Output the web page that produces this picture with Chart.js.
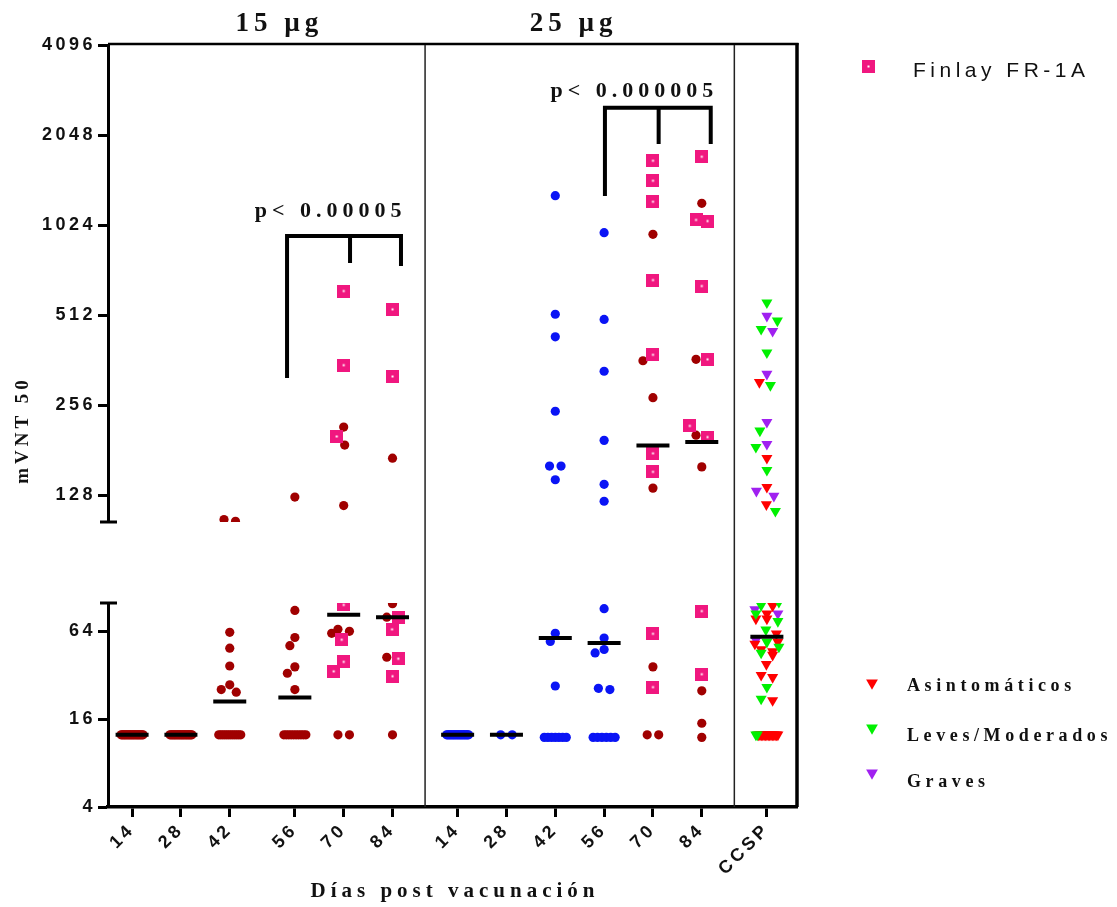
<!DOCTYPE html>
<html>
<head>
<meta charset="utf-8">
<script src="https://cdn.jsdelivr.net/npm/chart.js@4.4.1/dist/chart.umd.min.js"></script>
<style>
  html, body { margin: 0; padding: 0; background: #fff; }
</style>
</head>
<body>
<canvas id="myChart" width="1117" height="907"></canvas>
<script>
const ctx = document.getElementById('myChart');

// columnas del eje x
const slotLabels = ['14', '28', '42', '56', '70', '84', '14', '28', '42', '56', '70', '84', 'CCSP'];
const slotPos = [0, 3, 6, 10, 13, 16, 20, 23, 26, 29, 32, 35, 39];

const upperTicks = [128, 256, 512, 1024, 2048, 4096];
const lowerTicks = [4, 16, 64];

// 15 µg (círculos)
const r15_14 = [12.5, 12.5, 12.5, 12.5, 12.5, 12.5, 12.5, 12.5, 12.5, 12.5, 12.5, 12.5, 12.5, 12.5, 12.5, 12.5, 12.5, 12.5, 12.5, 12.5];
const r15_28 = [12.5, 12.5, 12.5, 12.5, 12.5, 12.5, 12.5, 12.5, 12.5, 12.5, 12.5, 12.5, 12.5, 12.5, 12.5, 12.5, 12.5, 12.5, 12.5, 12.5];
const r15_42 = [106, 104.5, 63, 49, 37, 27.5, 25.5, 24.5, 12.5, 12.5, 12.5, 12.5, 12.5, 12.5, 12.5, 12.5, 12.5, 12.5, 12.5, 12.5];
const r15_56 = [126, 89, 58, 51, 36.5, 33, 25.5, 12.5, 12.5, 12.5, 12.5, 12.5, 12.5, 12.5, 12.5, 12.5, 12.5];
const r15_70 = [216, 188, 118, 66, 64, 62, 12.5, 12.5];
const r15_84 = [170, 99, 80, 42.5, 12.5];
// 15 µg + Finlay FR-1A (cuadrados)
const f15_70 = [616, 348, 201, 97, 56, 39.5, 34];
const f15_84 = [535, 319, 80, 66, 41.5, 31.5];

// 25 µg
const b25_14 = [12.5, 12.5, 12.5, 12.5, 12.5, 12.5, 12.5, 12.5, 12.5, 12.5, 12.5, 12.5, 12.5, 12.5, 12.5, 12.5, 12.5, 12.5, 12.5, 12.5];
const b25_28 = [12.5, 12.5];
const b25_42 = [1284, 515, 433, 244, 160, 160, 144, 62, 54.5, 27, 12, 12, 12, 12, 12, 12, 12];
const b25_56 = [965, 495, 332, 195, 139, 122, 91.5, 57.5, 48, 45.5, 26, 25.5, 12, 12, 12, 12, 12, 12];
const r25_70 = [953, 360, 271, 135, 36.5, 12.5, 12.5];
const r25_84 = [1210, 364, 203, 159, 25, 15, 12];
const f25_70 = [1680, 1440, 1225, 670, 377, 176.5, 153, 61.5, 26.5];
const f25_84 = [1733, 1065, 1056, 640, 364, 218, 200, 88, 32.5];

// convalecientes (CCSP)
const ccAsym = [305, 170, 136, 119, 95.5, 84.5, 78, 78, 61.5, 54, 52.5, 48, 46.5, 44, 38, 32, 31, 21.5,
  12.5, 12.5, 12.5, 12.5, 12.5, 12.5, 12.5, 12.5, 12.5, 12.5, 12.5, 12.5, 12.5, 12.5, 12.5];
const ccMild = [563, 490, 459, 383, 298, 210, 185, 155, 113, 101.5, 96.5, 84.5, 75, 65.5, 54, 50, 45.5, 26.5, 22, 12.5, 12.5];
const ccSevere = [508, 452, 325, 224.5, 189.5, 132, 127, 90.5, 84.5, 55.5];

const BREAK = 103; // por debajo: tramo inferior del eje

// marcador Finlay: cuadrado rosa con punto blanco
const finlayMark = document.createElement('canvas');
finlayMark.width = 13; finlayMark.height = 13;
const fm = finlayMark.getContext('2d');
fm.fillStyle = '#f0177f'; fm.fillRect(0, 0, 13, 13);
fm.fillStyle = '#fff'; fm.fillRect(5.5, 5.5, 2, 2);

const styles = {
  red:    { style: 'circle', radius: 4.6, color: '#a00000', hit: 4.5, order: 2 },
  blue:   { style: 'circle', radius: 4.6, color: '#0a14f5', hit: 4.5, order: 2 },
  finlay: { style: finlayMark, radius: 6.5, color: '#f0177f', hit: 6.5, order: 1 },
  asym:   { style: 'triangle', radius: 6.4, color: '#ff0000', hit: 5.3, order: 1, rot: 180 },
  mild:   { style: 'triangle', radius: 6.4, color: '#00f000', hit: 5.3, order: 1, rot: 180 },
  severe: { style: 'triangle', radius: 6.4, color: '#a020f0', hit: 5.3, order: 1, rot: 180 }
};

const groups = [
  { slot: 0, values: r15_14, kind: 'red' },
  { slot: 1, values: r15_28, kind: 'red' },
  { slot: 2, values: r15_42, kind: 'red' },
  { slot: 3, values: r15_56, kind: 'red' },
  { slot: 4, values: r15_70, kind: 'red' },
  { slot: 4, values: f15_70, kind: 'finlay' },
  { slot: 5, values: r15_84, kind: 'red' },
  { slot: 5, values: f15_84, kind: 'finlay' },
  { slot: 6, values: b25_14, kind: 'blue' },
  { slot: 7, values: b25_28, kind: 'blue' },
  { slot: 8, values: b25_42, kind: 'blue' },
  { slot: 9, values: b25_56, kind: 'blue' },
  { slot: 10, values: r25_70, kind: 'red' },
  { slot: 10, values: f25_70, kind: 'finlay' },
  { slot: 11, values: r25_84, kind: 'red' },
  { slot: 11, values: f25_84, kind: 'finlay' },
  { slot: 12, values: ccMild, kind: 'mild' },
  { slot: 12, values: ccAsym, kind: 'asym' },
  { slot: 12, values: ccSevere, kind: 'severe' }
];

const datasets = [];
groups.forEach(g => {
  const st = styles[g.kind];
  [['yUp', v => v >= BREAK], ['yLow', v => v < BREAK]].forEach(([axis, keep]) => {
    const pts = g.values.filter(keep).map(v => ({ x: slotPos[g.slot], y: v, slot: g.slot }));
    if (!pts.length) return;
    datasets.push({
      data: pts, yAxisID: axis, order: st.order, hitR: st.hit,
      pointStyle: st.style, pointRadius: st.radius, pointRotation: st.rot || 0,
      pointBackgroundColor: st.color, pointBorderColor: st.color, pointBorderWidth: 0
    });
  });
});

// línea de media geométrica por columna
const gmt = slotPos.map((_, s) => {
  const vals = groups.filter(g => g.slot === s).flatMap(g => g.values);
  return Math.pow(2, vals.reduce((a, v) => a + Math.log2(v), 0) / vals.length);
});
[['yUp', v => v >= BREAK], ['yLow', v => v < BREAK]].forEach(([axis, keep]) => {
  const pts = gmt.map((v, s) => ({ x: slotPos[s], y: v })).filter(p => keep(p.y));
  if (!pts.length) return;
  datasets.push({
    data: pts, yAxisID: axis, order: 0, isMedian: true,
    pointStyle: 'line', pointRadius: 16.5, pointBorderWidth: 4, pointBorderColor: '#000'
  });
});

const SANS = "'Liberation Sans', Arial, sans-serif";
const SERIF = "'Liberation Serif', 'Times New Roman', serif";

function spacedText(c, text, x, y, font, spacing, align) {
  c.save();
  c.font = font;
  c.letterSpacing = spacing + 'px';
  c.textAlign = align;
  c.textBaseline = 'alphabetic';
  c.fillStyle = '#111';
  c.fillText(text, align === 'center' ? x + spacing / 2 : x, y);
  c.restore();
}

function triangle(c, x, y, r, color) {
  c.beginPath();
  c.moveTo(x - r * 0.866, y - r / 2);
  c.lineTo(x + r * 0.866, y - r / 2);
  c.lineTo(x, y + r);
  c.closePath();
  c.fillStyle = color;
  c.fill();
}

function bracket(c, xs, ys, legs, top, bottoms) {
  const yt = ys.getPixelForValue(top);
  const px = legs.map(v => xs.getPixelForValue(v));
  c.beginPath();
  c.moveTo(px[0] - 2, yt); c.lineTo(px[2] + 2, yt);
  px.forEach((x, i) => { c.moveTo(x, yt); c.lineTo(x, ys.getPixelForValue(bottoms[i])); });
  c.stroke();
}

const decor = {
  id: 'decor',
  beforeDraw(chart) { chart.ctx.letterSpacing = '3.5px'; },
  afterDraw(chart) {
    const c = chart.ctx, a = chart.chartArea;
    const xs = chart.scales.x, yU = chart.scales.yUp, yL = chart.scales.yLow;
    c.letterSpacing = '0px';
    c.save();
    c.strokeStyle = '#000';
    c.lineCap = 'butt';
    // marco superior y derecho
    c.lineWidth = 2.5;
    c.beginPath(); c.moveTo(a.left, a.top - 1); c.lineTo(a.right + 1.5, a.top - 1); c.stroke();
    c.lineWidth = 3.5;
    c.beginPath(); c.moveTo(a.right, a.top - 2); c.lineTo(a.right, a.bottom); c.stroke();
    // separadores de grupos
    c.lineWidth = 1.5; c.strokeStyle = '#222';
    [18, 37].forEach(v => {
      const x = xs.getPixelForValue(v);
      c.beginPath(); c.moveTo(x, a.top); c.lineTo(x, a.bottom); c.stroke();
    });
    // corte del eje
    c.strokeStyle = '#000'; c.lineWidth = 3;
    [yU.bottom, yL.top].forEach(y => {
      c.beginPath(); c.moveTo(a.left - 8, y); c.lineTo(a.left + 9, y); c.stroke();
    });
    // barras de significación
    c.lineWidth = 4;
    bracket(c, xs, yU, [9.52, 13.39, 16.52], 941, [315, 764, 747]);
    bracket(c, xs, yU, [29.05, 32.35, 35.55], 2527, [1280, 1911, 1911]);
    c.restore();

    spacedText(c, 'p< 0.00005', xs.getPixelForValue(12.04), yU.getPixelForValue(1089), 'bold 22px ' + SERIF, 5, 'center');
    spacedText(c, 'p< 0.000005', xs.getPixelForValue(30.7), yU.getPixelForValue(2744), 'bold 22px ' + SERIF, 5, 'center');

    // títulos de grupo
    spacedText(c, '15 µg', xs.getPixelForValue(8.9), a.top - 14, 'bold 27px ' + SERIF, 5, 'center');
    spacedText(c, '25 µg', xs.getPixelForValue(26.97), a.top - 14, 'bold 27px ' + SERIF, 5, 'center');

    // títulos de ejes
    c.save();
    c.translate(28, 432);
    c.rotate(-Math.PI / 2);
    spacedText(c, 'mVNT 50', 0, 0, 'bold 19px ' + SERIF, 4, 'center');
    c.restore();
    spacedText(c, 'Días post vacunación', (a.left + a.right) / 2, 897, 'bold 21px ' + SERIF, 5, 'center');

    // leyenda
    c.drawImage(finlayMark, 862, 60);
    spacedText(c, 'Finlay FR-1A', 913, 77, '21px ' + SANS, 4.5, 'left');
    const legendRows = [['Asintomáticos', '#ff0000', 683, 690.5], ['Leves/Moderados', '#00f000', 728, 740.5], ['Graves', '#a020f0', 773, 786.5]];
    legendRows.forEach(([txt, col, ty, by]) => {
      triangle(c, 872, ty, 6.8, col);
      spacedText(c, txt, 907, by, 'bold 18px ' + SERIF, 4.6, 'left');
    });
  }
};

const yCommon = {
  position: 'left', stack: 'y', bounds: 'data', offset: false,
  grid: { drawOnChartArea: false, drawTicks: true, tickLength: 10, tickWidth: 3, tickColor: '#000' },
  border: { display: true, width: 3, color: '#000' },
  ticks: { color: '#111', font: { family: SANS, size: 18, weight: 'bold' }, padding: 2, callback: v => String(v) },
  afterFit: s => { s.width = 108; }
};

const chart = new Chart(ctx, {
  type: 'scatter',
  data: { datasets },
  plugins: [decor],
  options: {
    responsive: false,
    devicePixelRatio: 1,
    animation: false,
    layout: { padding: { top: 45, right: 320, bottom: 0, left: 0 } },
    plugins: { legend: { display: false }, tooltip: { enabled: false } },
    scales: {
      x: {
        type: 'linear', min: -1.48, max: 40.85, bounds: 'data',
        grid: { drawOnChartArea: false, drawTicks: true, tickLength: 10, tickWidth: 3, tickColor: '#000' },
        border: { display: true, width: 3.5, color: '#000' },
        ticks: {
          color: '#111', font: { family: SANS, size: 18, weight: 'bold' },
          maxRotation: 45, minRotation: 45, autoSkip: false, padding: 2,
          callback: (v, i) => slotLabels[i]
        },
        afterBuildTicks: s => { s.ticks = slotPos.map(v => ({ value: v })); },
        afterFit: s => { s.height = 100; }
      },
      yLow: Object.assign({}, yCommon, {
        type: 'logarithmic', min: 4, max: 100, weight: 1, stackWeight: 204,
        afterBuildTicks: s => { s.ticks = lowerTicks.map(v => ({ value: v })); }
      }),
      yGap: {
        type: 'linear', position: 'left', stack: 'y', weight: 2, stackWeight: 81,
        display: false, min: 0, max: 1, afterFit: s => { s.width = 108; }
      },
      yUp: Object.assign({}, yCommon, {
        type: 'logarithmic', min: 104, max: 4096, weight: 3, stackWeight: 477,
        afterBuildTicks: s => { s.ticks = upperTicks.map(v => ({ value: v })); }
      })
    }
  }
});

// dispersión horizontal de puntos superpuestos (estilo Prism)
function swarm(chart) {
  const xs = chart.scales.x;
  const unit = xs.getPixelForValue(1) - xs.getPixelForValue(0);
  const slots = {};
  chart.data.datasets.forEach(ds => {
    if (ds.isMedian) return;
    const ys = chart.scales[ds.yAxisID];
    ds.data.forEach(p => {
      (slots[p.slot] = slots[p.slot] || []).push({ p, py: ys.getPixelForValue(p.y), r: ds.hitR, dx: 0 });
    });
  });
  Object.values(slots).forEach(items => {
    items.sort((a, b) => a.py - b.py);
    const rows = [];
    items.forEach(it => {
      const row = rows[rows.length - 1];
      if (row && Math.abs(it.py - row[0].py) < 2.5) row.push(it); else rows.push([it]);
    });
    const placed = [];
    rows.filter(row => row.length > 1).forEach(row => {
      const n = row.length;
      const step = Math.min(11.5, 22 / (n - 1));
      row.forEach((it, i) => { it.dx = (i - (n - 1) / 2) * step; placed.push(it); });
    });
    rows.filter(row => row.length === 1).forEach(([it]) => {
      let best = 0, bestOver = Infinity;
      for (let k = 0; k <= 24; k++) {
        for (const dx of (k ? [-k / 2, k / 2] : [0])) {
          let over = 0;
          placed.forEach(q => { over += Math.max(0, it.r + q.r + 0.5 - Math.hypot(dx - q.dx, it.py - q.py)); });
          if (over < bestOver - 1e-6) { bestOver = over; best = dx; }
        }
        if (bestOver === 0) break;
      }
      it.dx = best;
      placed.push(it);
    });
    items.forEach(it => { it.p.x = slotPos[it.p.slot] + it.dx / unit; });
  });
  chart.update('none');
}

swarm(chart);
</script>
</body>
</html>
